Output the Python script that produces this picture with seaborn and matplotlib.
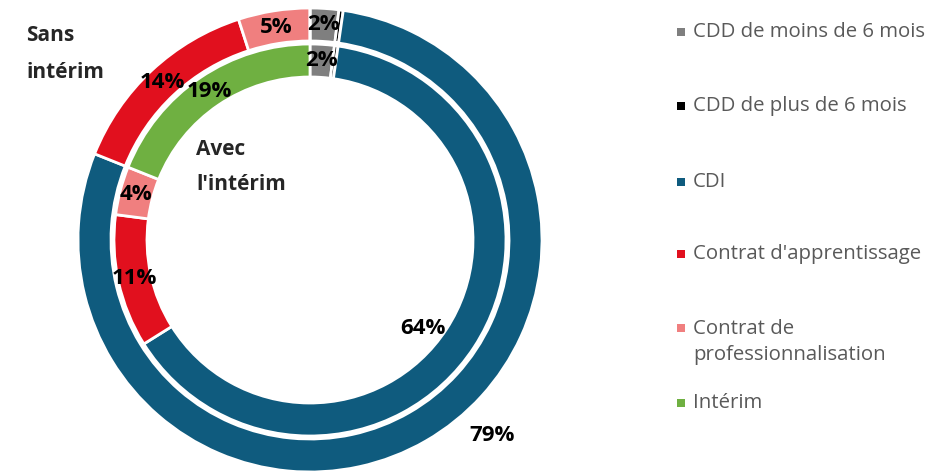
import numpy as np
import matplotlib.pyplot as plt
import seaborn as sns

sns.set_theme(style="white")
plt.rcParams['font.family'] = ['Open Sans', 'DejaVu Sans']

# data
categories = ['CDD de moins de 6 mois', 'CDD de plus de 6 mois', 'CDI',
              "Contrat d'apprentissage", 'Contrat de\nprofessionnalisation', 'Intérim']
sans_interim = [2, 0.3, 79, 14, 5, 0]
avec_interim = [2, 0.3, 64, 11, 4, 19]
colors = ['#7f7f7f', '#000000', '#0f5b7e', '#e1101e', '#f07f7f', '#6fb041']

W, H = 953, 473
fig = plt.figure(figsize=(W / 100, H / 100), dpi=100)

# pie axes: centre (310, 240) px from top, outer radius 232 px
R = 232
cx, cy = 310, H - 240
ax = fig.add_axes([(cx - R) / W, (cy - R) / H, 2 * R / W, 2 * R / H])

ring_w = 33 / R
r_in = 196 / R
wp = dict(width=ring_w, edgecolor='white', linewidth=2)

outer, _ = ax.pie(sans_interim, radius=1, colors=colors, startangle=90,
                  counterclock=False, wedgeprops=wp)
inner, _ = ax.pie(avec_interim, radius=r_in, colors=colors, startangle=90,
                  counterclock=False, wedgeprops=wp)
ax.set_xlim(-1, 1)
ax.set_ylim(-1, 1)
ax.set_aspect('equal')
ax.axis('off')

# CDI labels sit away from the wedge middle (angle, radius)
override = {('outer', 2): (-47, 1.15), ('inner', 2): (-38, 0.62)}


def put_labels(wedges, values, ring, rmid):
    for i, (w, v) in enumerate(zip(wedges, values)):
        if v < 1:
            continue
        ang, rr = override.get((ring, i), ((w.theta1 + w.theta2) / 2, rmid))
        a = np.deg2rad(ang)
        ax.text(rr * np.cos(a), rr * np.sin(a), f'{v:.0f}%', ha='center',
                va='center', fontsize=16, fontweight='bold', color='black')


put_labels(outer, sans_interim, 'outer', 1 - ring_w / 2)
put_labels(inner, avec_interim, 'inner', r_in - ring_w / 2)

fig.text(26 / W, 1 - 54 / H, 'Sans\nintérim', ha='left', va='center',
         fontsize=15, fontweight='bold', linespacing=2.0)
fig.text(196 / W, 1 - 167 / H, "Avec\nl'intérim", ha='left', va='center',
         fontsize=15, fontweight='bold', linespacing=1.9)

# legend drawn in pixel coordinates on its own axes
lax = fig.add_axes([0, 0, 1, 1], facecolor='none')
lax.set_xlim(0, W)
lax.set_ylim(H, 0)
lax.axis('off')
legend_y = [32, 106, 182, 254, 328, 403]
for name, c, y in zip(categories, colors, legend_y):
    lax.scatter([681], [y], marker='s', s=26, color=c, linewidths=0)
    nl = name.count('\n')
    lax.text(693, y + nl * 14, name, ha='left', va='center', fontsize=14.7,
             color='#595959', linespacing=1.4)

fig.savefig('out.png', dpi=100)
